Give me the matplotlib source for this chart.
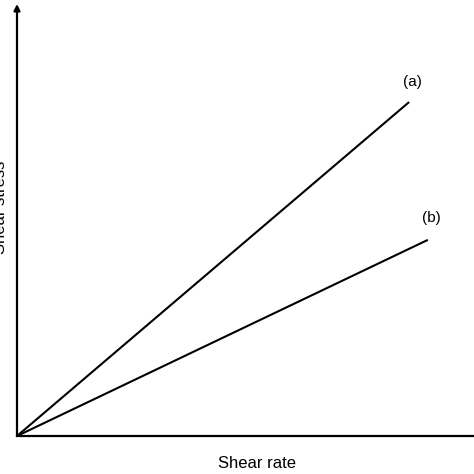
import matplotlib
matplotlib.use('Agg')
from matplotlib import pyplot as plt

plt.rcParams['font.family'] = ['Liberation Sans', 'DejaVu Sans']

# flow curves, two fluids
shear_rate_a = [0, 8.58]
shear_stress_a = [0, 7.73]
shear_rate_b = [0, 8.99]
shear_stress_b = [0, 4.54]
labels = ['(a)', '(b)']

W = H = 474
fig = plt.figure(figsize=(W / 100, H / 100), dpi=100)
ax = fig.add_axes([17 / W, (H - 436) / H, (W - 17) / W, 432 / H])
ax.set_xlim(0, 10)
ax.set_ylim(0, 10)

ax.plot(shear_rate_a, shear_stress_a, color='black', lw=1.5, solid_capstyle='butt')
ax.plot(shear_rate_b, shear_stress_b, color='black', lw=1.5, solid_capstyle='butt')
ax.text(shear_rate_a[1] + 0.08, shear_stress_a[1] + 0.47, labels[0], ha='center', va='center', fontsize=11)
ax.text(shear_rate_b[1] + 0.08, shear_stress_b[1] + 0.5, labels[1], ha='center', va='center', fontsize=11)

for side in ['top', 'right']:
    ax.spines[side].set_visible(False)
ax.spines['left'].set_visible(False)
ax.spines['bottom'].set_linewidth(1.6)
ax.set_xticks([])
ax.set_yticks([])

# y axis with arrow head
ax.annotate('', xy=(0, 10), xytext=(0, 0), xycoords='data',
            arrowprops=dict(arrowstyle='-|>', color='black', lw=1.6, mutation_scale=9,
                            shrinkA=0, shrinkB=0), annotation_clip=False)

fig.text(257 / W, 1 - 464 / H, 'Shear rate', ha='center', va='center', fontsize=12)
fig.text(1 / W, 1 - 207 / H, 'Shear stress', ha='center', va='center', rotation=90, fontsize=12)

fig.savefig('out.png', dpi=100)
